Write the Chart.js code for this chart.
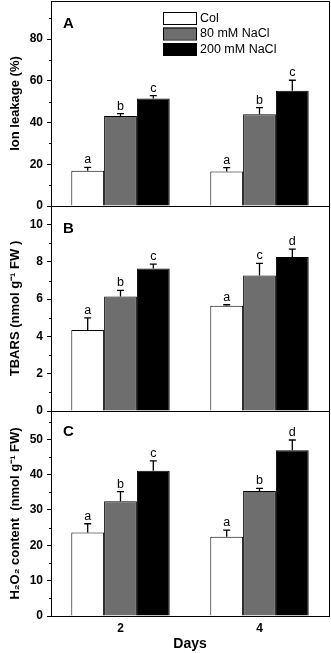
<!DOCTYPE html>
<html>
<head>
<meta charset="utf-8">
<script src="https://cdn.jsdelivr.net/npm/chart.js@4.4.1/dist/chart.umd.min.js"></script>
<style>
  html, body { margin: 0; padding: 0; background: #fff; }
  #wrap { position: relative; width: 331px; height: 653px; overflow: hidden; }
  canvas { position: absolute; left: 0; }
</style>
</head>
<body>
<div id="wrap">
  <canvas id="chartA" width="331" height="214" style="top:0px"></canvas>
  <canvas id="chartB" width="331" height="219" style="top:200px"></canvas>
  <canvas id="chartC" width="331" height="248" style="top:405px"></canvas>
</div>
<script>
// Days on the x axis
const days = ['2', '4'];
const seriesNames = ['Col', '80 mM NaCl', '200 mM NaCl'];

// Panel A - ion leakage (%)
const leakCol = [16.9, 16.6];
const leakColErr = [1.6, 1.8];
const leak80 = [43.2, 44.0];
const leak80Err = [1.1, 3.2];
const leak200 = [51.5, 55.3];
const leak200Err = [1.4, 5.0];
const leakLetters = [['a', 'a'], ['b', 'b'], ['c', 'c']];

// Panel B - TBARS
const tbarsCol = [4.35, 5.65];
const tbarsColErr = [0.65, 0.05];
const tbars80 = [6.15, 7.27];
const tbars80Err = [0.32, 0.65];
const tbars200 = [7.65, 8.26];
const tbars200Err = [0.23, 0.43];
const tbarsLetters = [['a', 'a'], ['b', 'c'], ['c', 'd']];

// Panel C - H2O2 content
const h2o2Col = [23.6, 22.4];
const h2o2ColErr = [2.5, 1.9];
const h2o280 = [32.5, 35.4];
const h2o280Err = [2.7, 0.7];
const h2o2200 = [41.1, 46.9];
const h2o2200Err = [2.8, 2.9];
const h2o2Letters = [['a', 'a'], ['b', 'b'], ['c', 'd']];

const barColors = ['#ffffff', '#6e6e6e', '#000000'];
const fontFamily = 'Arial, "Liberation Sans", Helvetica, sans-serif';

// frame box around the plot area
const framePlugin = {
    id: 'frame',
    afterDraw(chart) {
        const a = chart.chartArea;
        const ctx = chart.ctx;
        ctx.save();
        ctx.strokeStyle = '#000';
        ctx.lineWidth = 1;
        ctx.strokeRect(a.left + 0.5, a.top + 0.5, a.right - a.left, a.bottom - a.top);
        ctx.restore();
    }
};

// short minor ticks between the labelled ones
const minorTickPlugin = {
    id: 'minorTicks',
    afterDraw(chart, args, opts) {
        const y = chart.scales.y;
        const ctx = chart.ctx;
        ctx.save();
        ctx.strokeStyle = '#000';
        ctx.lineWidth = 1;
        for (let v = opts.step / 2; v < y.max; v += opts.step) {
            const py = Math.round(y.getPixelForValue(v)) + 0.5;
            ctx.beginPath();
            ctx.moveTo(y.right - 2, py);
            ctx.lineTo(y.right, py);
            ctx.stroke();
        }
        ctx.restore();
    }
};

// error bars (upper only) and letters
const errorPlugin = {
    id: 'errorBars',
    afterDatasetsDraw(chart) {
        const ctx = chart.ctx;
        const y = chart.scales.y;
        ctx.save();
        chart.data.datasets.forEach((ds, i) => {
            const meta = chart.getDatasetMeta(i);
            meta.data.forEach((bar, j) => {
                const top = y.getPixelForValue(ds.data[j] + ds.errors[j]);
                ctx.strokeStyle = '#000';
                ctx.lineWidth = 1.3;
                ctx.beginPath();
                ctx.moveTo(bar.x, bar.y);
                ctx.lineTo(bar.x, top);
                ctx.moveTo(bar.x - 3.5, top);
                ctx.lineTo(bar.x + 3.5, top);
                ctx.stroke();
                ctx.fillStyle = '#000';
                ctx.font = '12.5px ' + fontFamily;
                ctx.textAlign = 'center';
                ctx.textBaseline = 'alphabetic';
                ctx.fillText(ds.letters[j], bar.x, top - 4);
            });
        });
        ctx.restore();
    }
};

// panel letter A/B/C
const panelLabelPlugin = {
    id: 'panelLabel',
    afterDraw(chart, args, opts) {
        const ctx = chart.ctx;
        ctx.save();
        ctx.fillStyle = '#000';
        ctx.font = 'bold 15px ' + fontFamily;
        ctx.textAlign = 'left';
        ctx.textBaseline = 'alphabetic';
        ctx.fillText(opts.text, chart.chartArea.left + 12, chart.chartArea.top + opts.dy);
        ctx.restore();
    }
};

// legend drawn from the dataset labels/colours
const boxLegendPlugin = {
    id: 'boxLegend',
    afterDraw(chart, args, opts) {
        if (!opts.show) return;
        const ctx = chart.ctx;
        ctx.save();
        chart.data.datasets.forEach((ds, i) => {
            const top = 12 + i * 15.5;
            ctx.fillStyle = ds.backgroundColor;
            ctx.fillRect(163, top, 33, 12);
            ctx.strokeStyle = '#000';
            ctx.lineWidth = 1;
            ctx.strokeRect(163.5, top + 0.5, 33, 12);
            ctx.fillStyle = '#000';
            ctx.font = '12.5px ' + fontFamily;
            ctx.textAlign = 'left';
            ctx.textBaseline = 'middle';
            ctx.fillText(ds.label, 200, top + 6.5);
        });
        ctx.restore();
    }
};

function makePanel(id, p) {
    const datasets = p.values.map((vals, i) => ({
        label: seriesNames[i],
        data: vals,
        errors: p.errors[i],
        letters: p.letters[i],
        backgroundColor: barColors[i],
        borderColor: '#000',
        borderWidth: 1,
        categoryPercentage: 0.708,
        barPercentage: 1.0
    }));
    return new Chart(document.getElementById(id).getContext('2d'), {
        type: 'bar',
        data: { labels: days, datasets: datasets },
        plugins: [framePlugin, minorTickPlugin, errorPlugin, panelLabelPlugin, boxLegendPlugin],
        options: {
            responsive: false,
            animation: false,
            layout: { padding: p.padding },
            plugins: {
                legend: { display: false },
                tooltip: { enabled: false },
                minorTicks: { step: p.step },
                panelLabel: { text: p.label, dy: p.labelDy },
                boxLegend: { show: p.legend }
            },
            scales: {
                x: {
                    display: p.showX,
                    grid: { display: false, drawTicks: false },
                    border: { display: false },
                    ticks: { color: '#000', padding: 5, font: { family: fontFamily, size: 12, weight: 'bold' } },
                    title: {
                        display: true,
                        text: 'Days',
                        color: '#000',
                        padding: { top: 0, bottom: 0 },
                        font: { family: fontFamily, size: 14, weight: 'bold' }
                    },
                    afterFit: s => {
                        if (p.showX) s.height = 37;
                        s.paddingLeft = 0;
                        s.paddingRight = 0;
                    }
                },
                y: {
                    min: 0,
                    max: p.max,
                    ticks: {
                        stepSize: p.step,
                        color: '#000',
                        padding: 4,
                        font: { family: fontFamily, size: 12, weight: 'bold' }
                    },
                    afterBuildTicks: s => {
                        s.ticks = s.ticks.filter(t => Math.abs(t.value / p.step - Math.round(t.value / p.step)) < 1e-6);
                    },
                    grid: { drawOnChartArea: false, tickLength: 4, color: '#000', lineWidth: 1 },
                    border: { display: false },
                    title: {
                        display: true,
                        text: p.yTitle,
                        color: '#000',
                        padding: { top: 8, bottom: 0 },
                        font: { family: fontFamily, size: 13, weight: 'bold' }
                    },
                    afterFit: s => {
                        s.width = 51;
                        s.paddingTop = 0;
                        s.paddingBottom = 0;
                    }
                }
            }
        }
    });
}

makePanel('chartA', {
    values: [leakCol, leak80, leak200],
    errors: [leakColErr, leak80Err, leak200Err],
    letters: leakLetters,
    max: 98.3, step: 20,
    yTitle: 'Ion leakage (%)',
    label: 'A', labelDy: 27,
    legend: true, showX: false,
    padding: { top: 1, bottom: 8, left: 0, right: 2 }
});

makePanel('chartB', {
    values: [tbarsCol, tbars80, tbars200],
    errors: [tbarsColErr, tbars80Err, tbars200Err],
    letters: tbarsLetters,
    max: 11, step: 2,
    yTitle: 'TBARS (nmol g\u207B\u00B9 FW )',
    label: 'B', labelDy: 27,
    legend: false, showX: false,
    padding: { top: 6, bottom: 8, left: 0, right: 2 }
});

makePanel('chartC', {
    values: [h2o2Col, h2o280, h2o2200],
    errors: [h2o2ColErr, h2o280Err, h2o2200Err],
    letters: h2o2Letters,
    max: 58, step: 10,
    yTitle: 'H\u2082O\u2082 content  (nmol g\u207B\u00B9 FW)',
    label: 'C', labelDy: 25,
    legend: false, showX: true,
    padding: { top: 6, bottom: 0, left: 0, right: 2 }
});
</script>
</body>
</html>
